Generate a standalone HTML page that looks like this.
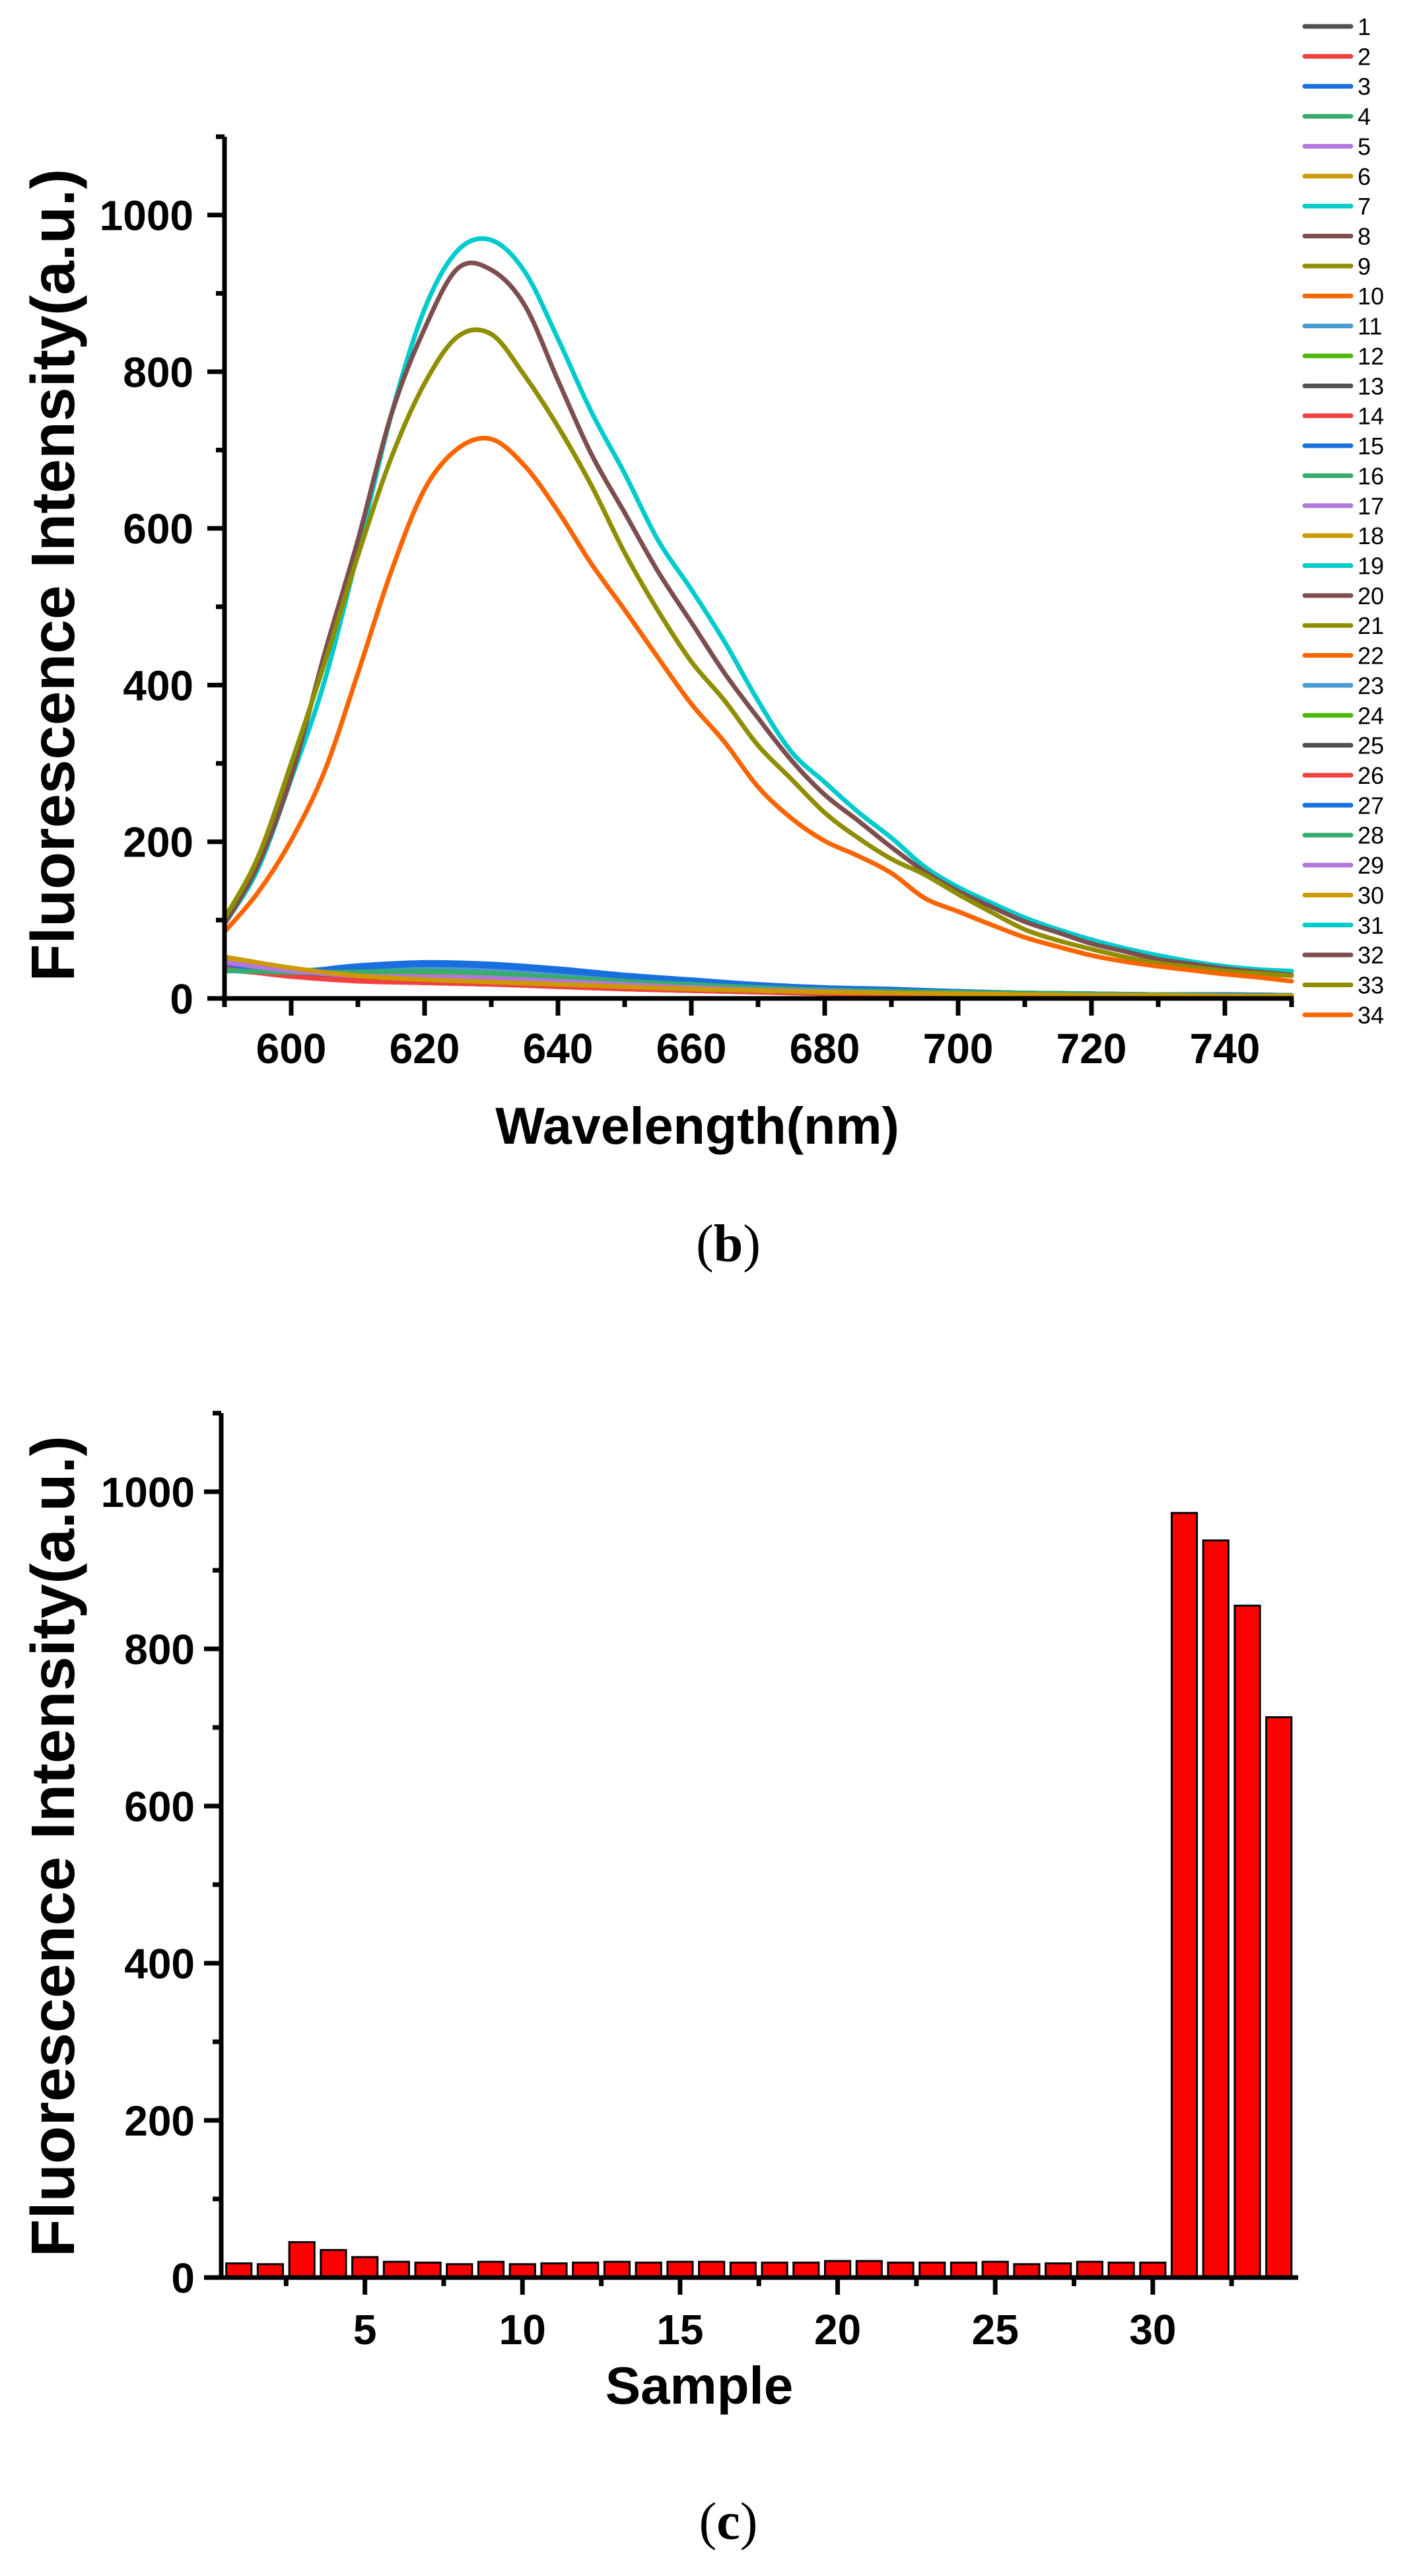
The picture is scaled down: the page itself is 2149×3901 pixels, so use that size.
<!DOCTYPE html>
<html><head><meta charset="utf-8"><style>
html,body{margin:0;padding:0;background:#fff;}
svg{display:block;}
text{font-family:"Liberation Sans",Arial,sans-serif;}
</style></head><body>
<svg id="fig" width="2149" height="3901" viewBox="0 0 2149 3901" xmlns="http://www.w3.org/2000/svg">
<g id="chartB"></g>
<g id="legendB"></g>
<g id="chartC"></g>
<text x="1103" y="1910" text-anchor="middle" style="font-family:'Liberation Serif',serif;font-size:80px">(<tspan font-weight="bold">b</tspan>)</text>
<text x="1103" y="3845" text-anchor="middle" style="font-family:'Liberation Serif',serif;font-size:80px">(<tspan font-weight="bold">c</tspan>)</text>
</svg>
<script>
// ---- data: spectra ----
const wl = [590,595,600,605,610,615,620,625,630,635,640,645,650,655,660,665,670,675,680,685,690,695,700,705,710,715,720,725,730,735,740,745,750];
const s31 = [95,165,280,405,570,745,880,955,968,928,842,749,670,585,522,455,380,315,276,238,205,168,142,122,103,88,75,64,55,47,41,37,35];
const s32 = [95,170,283,440,585,745,855,932,930,885,789,695,620,545,480,415,358,304,260,227,193,162,137,117,98,84,70,60,50,44,38,34,30];
const s33 = [102,180,300,428,565,690,785,845,848,795,730,655,569,495,430,380,323,280,237,205,178,158,133,110,88,74,63,53,45,40,35,32,29];
const s34 = [85,135,202,290,415,545,650,702,714,680,622,555,496,435,376,327,270,230,201,182,160,128,111,94,78,66,55,47,41,36,31,27,22];
const lowWl = [590,600,610,620,630,640,650,660,670,680,690,700,710,720,730,740,750];
const s1 = [40,30,25,22,20,17,14,11,9,7,6,5,4,3,3,2,2];
const s2 = [38,28,22,20,18,15,12,10,8,6,5,4,3,3,2,2,2];
const s3 = [45,35,42,46,44,38,30,24,18,14,12,9,7,6,5,5,4];
const s4 = [35,35,36,38,34,29,24,20,16,12,10,8,7,6,5,5,4];
const s5 = [48,36,30,30,28,24,19,15,12,9,8,6,5,4,4,3,3];
const s6 = [52,38,28,24,21,18,15,12,10,8,7,6,5,4,4,3,3];
const s7 = [36,30,24,21,19,16,13,11,9,7,6,5,4,3,3,3,2];
const s8 = [40,31,25,22,20,17,14,11,9,7,6,5,4,3,3,2,2];
const s9 = [42,32,26,22,20,17,14,11,9,7,6,5,4,4,3,3,3];
const s10 = [44,33,26,23,21,18,15,12,9,7,6,5,4,4,3,3,3];
const s11 = [40,34,38,40,38,33,26,20,15,11,9,7,6,5,4,4,3];
const s12 = [38,33,34,35,33,28,22,18,14,11,9,7,6,5,4,4,3];
const s13 = [41,31,25,21,19,16,13,10,8,7,5,4,4,3,3,2,2];
const s14 = [37,29,23,20,18,15,12,10,8,6,5,4,3,3,2,2,2];
const s15 = [46,36,40,44,42,36,29,23,17,13,11,9,7,6,5,5,4];
const s16 = [36,34,35,36,33,28,23,19,15,12,10,8,7,6,5,4,4];
const s17 = [47,35,29,28,26,22,18,14,11,9,7,6,5,4,4,3,3];
const s18 = [50,37,28,23,20,17,14,12,10,8,7,6,5,4,4,3,3];
const s19 = [37,30,24,21,19,16,13,11,9,7,6,5,4,3,3,3,2];
const s20 = [39,30,24,21,19,16,13,11,9,7,6,5,4,3,3,2,2];
const s21 = [43,32,25,22,20,17,14,11,9,7,6,5,4,4,3,3,3];
const s22 = [45,33,26,23,21,18,15,12,9,7,6,5,4,4,3,3,3];
const s23 = [39,33,36,38,36,31,25,19,14,11,9,7,6,5,4,4,3];
const s24 = [37,32,33,34,32,27,22,18,14,11,9,7,6,5,4,4,3];
const s25 = [40,30,25,22,20,17,14,11,9,7,6,5,4,3,3,2,2];
const s26 = [38,28,23,20,18,15,12,10,8,6,5,4,3,3,2,2,2];
const s27 = [44,34,39,43,41,35,28,22,17,13,11,9,7,6,5,5,4];
const s28 = [36,33,34,35,32,27,22,18,14,11,9,8,7,6,5,4,4];
const s29 = [46,35,29,28,26,22,18,14,11,9,7,6,5,4,4,3,3];
const s30 = [53,39,29,24,21,18,15,12,10,8,7,6,5,4,4,3,3];
const yTicksB = [0,200,400,600,800,1000];
const xTicksB = [600,620,640,660,680,700,720,740];
// ---- data: bars ----
const samples = [1,2,3,4,5,6,7,8,9,10,11,12,13,14,15,16,17,18,19,20,21,22,23,24,25,26,27,28,29,30,31,32,33,34];
const barValues = [18,17,45,35,26,20,19,17,20,17,18,19,20,19,20,20,19,19,19,21,21,19,19,19,20,17,18,20,19,19,973,938,855,713];
const xTicksC = [5,10,15,20,25,30];
const yTicksC = [0,200,400,600,800,1000];

const NS = 'http://www.w3.org/2000/svg';
function mk(parent, tag, attrs, text) {
  const e = document.createElementNS(NS, tag);
  for (const k in attrs) e.setAttribute(k, attrs[k]);
  if (text !== undefined) e.textContent = text;
  parent.appendChild(e);
  return e;
}
const palette = ['#515151','#F14040','#1A6FDF','#37AD6B','#B177DE','#CC9900','#00CBCC','#7D4E4E','#8E8E00','#FB6501','#4A9AD3','#4DB80A'];

// ---------- Chart B ----------
const gB = document.getElementById('chartB');
const bx0 = 340, bx1 = 1956, by0 = 1512, by1 = 207;
const xB = w => bx0 + (w - 590) / (750 - 590) * (bx1 - bx0);
const yB = v => by0 - v / 1100 * (by0 - by1);

const lowSeries = [s1,s2,s3,s4,s5,s6,s7,s8,s9,s10,s11,s12,s13,s14,s15,s16,s17,s18,s19,s20,s21,s22,s23,s24,s25,s26,s27,s28,s29,s30];
const highSeries = [s31,s32,s33,s34];
const gLines = mk(gB, 'g', {});


function smoothPath(pts) {
  let d = 'M' + pts[0][0].toFixed(1) + ',' + pts[0][1].toFixed(1);
  for (let i = 0; i < pts.length - 1; i++) {
    const p0 = pts[Math.max(0, i - 1)], p1 = pts[i], p2 = pts[i + 1], p3 = pts[Math.min(pts.length - 1, i + 2)];
    const c1x = p1[0] + (p2[0] - p0[0]) / 6, c1y = p1[1] + (p2[1] - p0[1]) / 6;
    const c2x = p2[0] - (p3[0] - p1[0]) / 6, c2y = p2[1] - (p3[1] - p1[1]) / 6;
    d += ' C' + c1x.toFixed(1) + ',' + c1y.toFixed(1) + ' ' + c2x.toFixed(1) + ',' + c2y.toFixed(1) + ' ' + p2[0].toFixed(1) + ',' + p2[1].toFixed(1);
  }
  return d;
}
function drawLine(xs, ys, idx) {
  const pts = xs.map((w, i) => [xB(w), yB(ys[i])]);
  const p = mk(gLines, 'path', {d: smoothPath(pts), fill: 'none', stroke: palette[idx % 12], 'stroke-width': 7, 'stroke-linejoin': 'round', 'stroke-linecap': 'round'});
  
  
}
lowSeries.forEach((s, i) => drawLine(lowWl, s, i));
highSeries.forEach((s, i) => drawLine(wl, s, 30 + i));

// axes B
const axB = mk(gB, 'g', {stroke: '#000', 'stroke-width': 7, fill: 'none'});


mk(axB, 'line', {x1: bx0, y1: by1, x2: bx0, y2: by0 + 3.5});
mk(axB, 'line', {x1: bx0 - 3.5, y1: by0, x2: bx1 + 3, y2: by0});
for (let v = 0; v <= 1100; v += 100) {
  const major = v % 200 === 0;
  mk(axB, 'line', {x1: bx0, x2: bx0 - (major ? 26 : 13), y1: yB(v), y2: yB(v)});
}
for (let w = 590; w <= 750; w += 10) {
  const major = (w - 600) % 20 === 0;
  mk(axB, 'line', {x1: xB(w), x2: xB(w), y1: by0, y2: by0 + (major ? 26 : 13)});
}
yTicksB.forEach(v => {
  const t = mk(gB, 'text', {x: 293, y: yB(v) + 23, 'text-anchor': 'end', 'font-size': 64, 'font-weight': 'bold'}, String(v));
  
  
});
xTicksB.forEach(w => {
  const t = mk(gB, 'text', {x: xB(w), y: 1610, 'text-anchor': 'middle', 'font-size': 64, 'font-weight': 'bold'}, String(w));
  
  
});
const ytB = mk(gB, 'text', {x: 0, y: 0, transform: 'translate(112,871) rotate(-90)', 'text-anchor': 'middle', 'font-size': 93, 'font-weight': 'bold', textLength: 1231, lengthAdjust: 'spacingAndGlyphs'}, 'Fluorescence Intensity(a.u.)');


const xtB = mk(gB, 'text', {x: 1056, y: 1732, 'text-anchor': 'middle', 'font-size': 79, 'font-weight': 'bold'}, 'Wavelength(nm)');



// legend
const gL = document.getElementById('legendB');
for (let i = 0; i < 34; i++) {
  const y = 40 + i * 45.36;
  const g = mk(gL, 'g', {});
  
  
  mk(g, 'line', {x1: 1976, x2: 2046, y1: y, y2: y, stroke: palette[i % 12], 'stroke-width': 7, 'stroke-linecap': 'round'});
  mk(g, 'text', {x: 2056, y: y + 13, 'font-size': 36}, String(i + 1));
}

// ---------- Chart C ----------
const gC = document.getElementById('chartC');
const cx0 = 335, cx1 = 1963, cy0 = 3449, cy1 = 2140;
const xminC = 0.44, xmaxC = 34.55;
const xC = s => cx0 + (s - xminC) / (xmaxC - xminC) * (cx1 - cx0);
const yC = v => cy0 - v / 1100 * (cy0 - cy1);
const bw = 0.8 * (xC(2) - xC(1));
const gBars = mk(gC, 'g', {});


samples.forEach((s, i) => {
  const r = mk(gBars, 'rect', {x: xC(s) - bw / 2, y: yC(barValues[i]), width: bw, height: yC(0) - yC(barValues[i]), fill: '#FF0000', stroke: '#000', 'stroke-width': 3});
  
  
});
const axC = mk(gC, 'g', {stroke: '#000', 'stroke-width': 7, fill: 'none'});


mk(axC, 'line', {x1: cx0, y1: cy1, x2: cx0, y2: cy0 + 3.5});
mk(axC, 'line', {x1: cx0 - 3.5, y1: cy0, x2: cx1 + 3, y2: cy0});
for (let v = 0; v <= 1100; v += 100) {
  const major = v % 200 === 0;
  mk(axC, 'line', {x1: cx0, x2: cx0 - (major ? 26 : 13), y1: yC(v), y2: yC(v)});
}
for (let s = 2.5; s <= 34; s += 2.5) {
  const major = s % 5 === 0;
  mk(axC, 'line', {x1: xC(s), x2: xC(s), y1: cy0, y2: cy0 + (major ? 26 : 13)});
}
yTicksC.forEach(v => {
  const t = mk(gC, 'text', {x: 295, y: yC(v) + 23, 'text-anchor': 'end', 'font-size': 64, 'font-weight': 'bold'}, String(v));
  
  
});
xTicksC.forEach(s => {
  const t = mk(gC, 'text', {x: xC(s), y: 3550, 'text-anchor': 'middle', 'font-size': 64, 'font-weight': 'bold'}, String(s));
  
  
});
const ytC = mk(gC, 'text', {x: 0, y: 0, transform: 'translate(112,2796) rotate(-90)', 'text-anchor': 'middle', 'font-size': 93, 'font-weight': 'bold', textLength: 1244, lengthAdjust: 'spacingAndGlyphs'}, 'Fluorescence Intensity(a.u.)');


const xtC = mk(gC, 'text', {x: 1059, y: 3640, 'text-anchor': 'middle', 'font-size': 80, 'font-weight': 'bold'}, 'Sample');


</script>
</body></html>
